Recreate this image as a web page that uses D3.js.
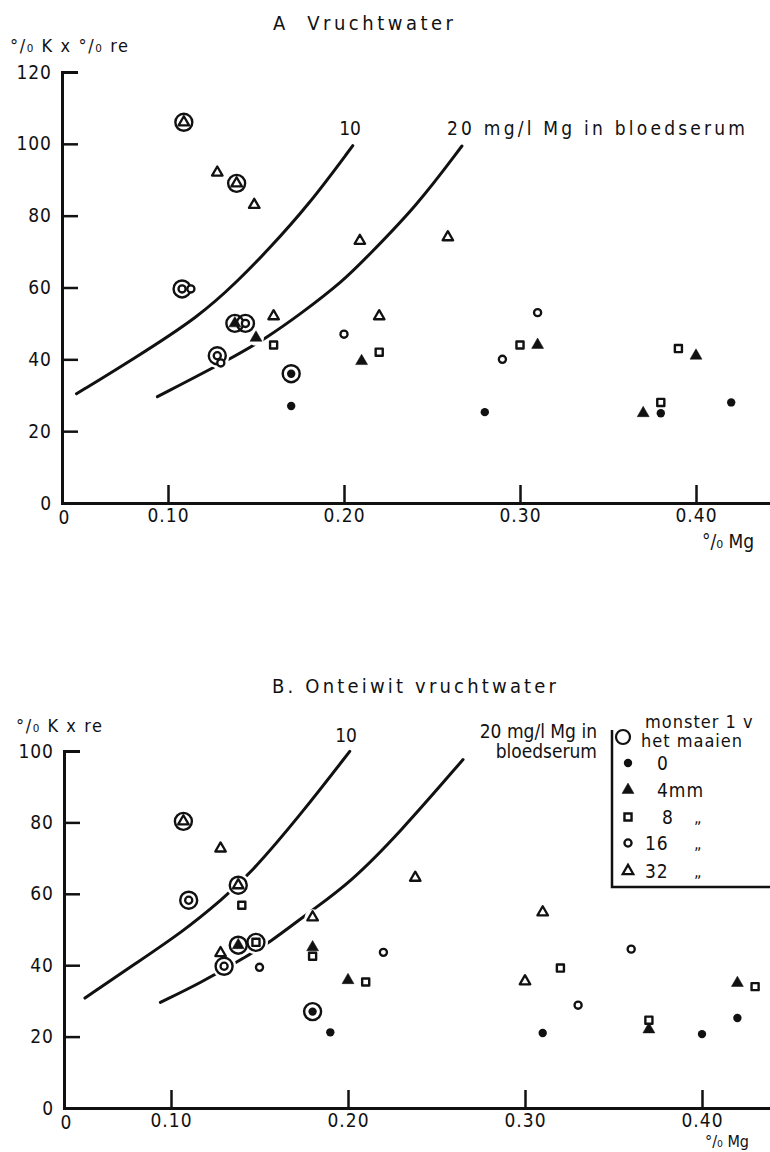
<!doctype html>
<html>
<head>
<meta charset="utf-8">
<title>Vruchtwater Mg</title>
<script src="https://d3js.org/d3.v7.min.js"></script>
<style>
  body { margin: 0; background: #fff; }
  text { font-family: 'DejaVu Sans Condensed', 'DejaVu Sans', sans-serif; fill: #111; }
</style>
</head>
<body>
<script>
// axis ticks
var xTicks = [0.1, 0.2, 0.3, 0.4];
var xTickLabels = ["0.10", "0.20", "0.30", "0.40"];
var yTicksA = [0, 20, 40, 60, 80, 100, 120];
var yTicksB = [0, 20, 40, 60, 80, 100];

// panel A: [% Mg, %K x %re, circled]
var a0  = [[0.17, 36, 1], [0.17, 27], [0.28, 25.3], [0.38, 25], [0.42, 28]];
var a4  = [[0.138, 50, 1], [0.15, 46], [0.21, 39.5], [0.31, 44], [0.37, 25], [0.40, 41]];
var a8  = [[0.16, 44], [0.22, 42], [0.30, 44], [0.39, 43], [0.38, 28]];
var a16 = [[0.108, 59.6, 1], [0.113, 59.6], [0.144, 50, 1], [0.128, 41, 1], [0.13, 39],
           [0.20, 47], [0.29, 40], [0.31, 53]];
var a32 = [[0.109, 106, 1], [0.128, 92], [0.139, 89, 1], [0.149, 83], [0.209, 73],
           [0.259, 74], [0.16, 52], [0.22, 52]];

// panel B
var b0  = [[0.18, 27, 1], [0.19, 21.2], [0.31, 21], [0.40, 20.7], [0.42, 25.2]];
var b4  = [[0.138, 45.6, 1], [0.18, 45], [0.20, 35.8], [0.37, 22], [0.42, 35]];
var b8  = [[0.14, 56.8], [0.148, 46.4, 1], [0.18, 42.5], [0.21, 35.3], [0.32, 39.2],
           [0.37, 24.6], [0.43, 34]];
var b16 = [[0.11, 58.2, 1], [0.13, 39.7, 1], [0.15, 39.4], [0.22, 43.6], [0.33, 28.8], [0.36, 44.5]];
var b32 = [[0.107, 80.3, 1], [0.128, 72.7], [0.138, 62.4, 1], [0.128, 43.4], [0.18, 53.4],
           [0.238, 64.5], [0.31, 54.8], [0.30, 35.5]];

// curves: 10 and 20 mg/l Mg in bloedserum
var a10 = [[0.048, 30.4], [0.08, 40], [0.118, 52], [0.14, 62], [0.156, 70], [0.18, 83], [0.205, 99.5]];
var a20 = [[0.094, 29.6], [0.137, 40.5], [0.156, 46], [0.175, 52.5], [0.20, 62], [0.213, 68.5],
           [0.241, 82.5], [0.267, 99.4]];
var b10 = [[0.0514, 30.8], [0.0785, 40], [0.107, 49.5], [0.129, 58.5], [0.1446, 65.5],
           [0.173, 82], [0.201, 99.9]];
var b20 = [[0.094, 29.6], [0.1165, 35], [0.139, 41.4], [0.156, 46.4], [0.1785, 55],
           [0.201, 63], [0.229, 77], [0.265, 97.6]];

var legendKeys = ["0", "4", "8", "16", "32"];
var legendLabels = ["0", "4mm", "8", "16", "32"];

var W = 770, H = 1152;
var svg = d3.select("body").append("svg").attr("width", W).attr("height", H);

var markStyle = {
  "0":  {type: d3.symbolCircle,   size: 55, fill: "#111", sw: 0},
  "4":  {type: d3.symbolTriangle, size: 62, fill: "#111", sw: 0.5},
  "8":  {type: d3.symbolSquare,   size: 50, fill: "#fff", sw: 2.4},
  "16": {type: d3.symbolCircle,   size: 40, fill: "#fff", sw: 2.3},
  "32": {type: d3.symbolTriangle, size: 48, fill: "#fff", sw: 2.3}
};

function drawPanel(p) {
  var x = d3.scaleLinear().domain([0.1, 0.4]).range([p.x10, p.x40]);
  var y = d3.scaleLinear().domain([0, p.yMax]).range([p.y0, p.y1]);
  var g = svg.append("g");

  // y axis, ticks pointing inward
  var ya = g.append("g").attr("transform", "translate(" + p.xo + ",0)")
    .call(d3.axisLeft(y).tickValues(p.yTicks).tickSize(-16).tickSizeOuter(-16).tickPadding(10));
  ya.select(".domain").attr("stroke", "#111").attr("stroke-width", 3);
  ya.selectAll(".tick line").attr("stroke", "#111").attr("stroke-width", 2.5);
  ya.selectAll(".tick text").attr("font-size", 19).attr("letter-spacing", 1)
    .attr("font-family", "'DejaVu Sans Condensed', sans-serif").attr("fill", "#111");

  // x axis, starts at the origin and runs off the right edge
  var xs = x.copy().domain([x.invert(p.xo), x.invert(W + 5)]).range([p.xo, W + 5]);
  var xa = g.append("g").attr("transform", "translate(0," + p.y0 + ")")
    .call(d3.axisBottom(xs).tickValues(xTicks).tickFormat(function(d, i) { return xTickLabels[i]; })
      .tickSize(-18).tickSizeOuter(0).tickPadding(6));
  xa.select(".domain").attr("stroke", "#111").attr("stroke-width", 3);
  xa.selectAll(".tick line").attr("stroke", "#111").attr("stroke-width", 2.5);
  xa.selectAll(".tick text").attr("font-size", 19).attr("letter-spacing", 1)
    .attr("font-family", "'DejaVu Sans Condensed', sans-serif").attr("fill", "#111");

  g.append("text").attr("x", p.xo + 2).attr("y", p.y0 + 21).attr("text-anchor", "middle")
    .attr("font-size", 19).text("0");

  // curves
  var line = d3.line().x(function(d) { return x(d[0]); }).y(function(d) { return y(d[1]); })
    .curve(d3.curveBasis);
  [p.c10, p.c20].forEach(function(c) {
    g.append("path").attr("d", line(c)).attr("fill", "none")
      .attr("stroke", "#111").attr("stroke-width", 3).attr("stroke-linecap", "round");
  });

  var pts = [];
  legendKeys.forEach(function(k) {
    p.series[k].forEach(function(d) { pts.push({k: k, x: d[0], y: d[1], ring: !!d[2]}); });
  });

  // white knockouts where the curves pass under marks
  g.selectAll("circle.knock").data(pts).enter().append("circle")
    .attr("cx", function(d) { return x(d.x); }).attr("cy", function(d) { return y(d.y); })
    .attr("r", function(d) { return d.ring ? 12 : 8; }).attr("fill", "#fff");

  g.selectAll("circle.ring").data(pts.filter(function(d) { return d.ring; })).enter().append("circle")
    .attr("cx", function(d) { return x(d.x); }).attr("cy", function(d) { return y(d.y); })
    .attr("r", 8.5).attr("fill", "none").attr("stroke", "#111").attr("stroke-width", 2.4);

  g.selectAll("path.mark").data(pts).enter().append("path")
    .attr("transform", function(d) { return "translate(" + x(d.x) + "," + y(d.y) + ")"; })
    .attr("d", function(d) { var s = markStyle[d.k]; return d3.symbol().type(s.type).size(s.size)(); })
    .attr("fill", function(d) { return markStyle[d.k].fill; })
    .attr("stroke", "#111")
    .attr("stroke-width", function(d) { return markStyle[d.k].sw; })
    .attr("stroke-linejoin", "round");
}

drawPanel({xo: 62, x10: 168, x40: 696, y0: 503, y1: 72, yMax: 120, yTicks: yTicksA,
  c10: a10, c20: a20, series: {"0": a0, "4": a4, "8": a8, "16": a16, "32": a32}});
drawPanel({xo: 64, x10: 171, x40: 702, y0: 1108, y1: 751, yMax: 100, yTicks: yTicksB,
  c10: b10, c20: b20, series: {"0": b0, "4": b4, "8": b8, "16": b16, "32": b32}});

// panel A texts
svg.append("text").attr("x", 273).attr("y", 30).attr("font-size", 20)
  .attr("textLength", 180).attr("lengthAdjust", "spacing")
  .attr("xml:space", "preserve").text("A  Vruchtwater");
svg.append("text").attr("x", 10).attr("y", 52).attr("font-size", 18)
  .attr("textLength", 118).attr("lengthAdjust", "spacing").text("°/₀ K x °/₀ re");
svg.append("text").attr("x", 350).attr("y", 135).attr("text-anchor", "middle").attr("font-size", 19).text("10");
svg.append("text").attr("x", 447).attr("y", 135).attr("font-size", 19)
  .attr("textLength", 298).attr("lengthAdjust", "spacing").text("20 mg/l Mg in bloedserum");
svg.append("text").attr("x", 702).attr("y", 548).attr("font-size", 19).text("°/₀ Mg");

// panel B texts
svg.append("text").attr("x", 272).attr("y", 693).attr("font-size", 20)
  .attr("textLength", 284).attr("lengthAdjust", "spacing").text("B. Onteiwit vruchtwater");
svg.append("text").attr("x", 16).attr("y", 732).attr("font-size", 18)
  .attr("textLength", 86).attr("lengthAdjust", "spacing").text("°/₀ K x re");
svg.append("text").attr("x", 346).attr("y", 742).attr("text-anchor", "middle").attr("font-size", 19).text("10");
svg.append("text").attr("x", 597).attr("y", 738).attr("text-anchor", "end").attr("font-size", 19)
  .text("20 mg/l Mg in");
svg.append("text").attr("x", 597).attr("y", 758).attr("text-anchor", "end").attr("font-size", 19)
  .text("bloedserum");
svg.append("text").attr("x", 705).attr("y", 1147).attr("font-size", 16).text("°/₀ Mg");

// legend
var lg = svg.append("g");
lg.append("path").attr("d", "M612,730V887H775").attr("fill", "none")
  .attr("stroke", "#111").attr("stroke-width", 2.5);
lg.append("circle").attr("cx", 623).attr("cy", 737).attr("r", 7)
  .attr("fill", "none").attr("stroke", "#111").attr("stroke-width", 2.2);
lg.append("text").attr("x", 645).attr("y", 728).attr("font-size", 18).attr("letter-spacing", 1).text("monster 1 v");
lg.append("text").attr("x", 641).attr("y", 747).attr("font-size", 18).attr("letter-spacing", 1).text("het maaien");
var rowY = [763, 790, 817, 843, 871];
lg.selectAll("path.key").data(legendKeys).enter().append("path")
  .attr("transform", function(d, i) { return "translate(628," + rowY[i] + ")"; })
  .attr("d", function(d) { var s = markStyle[d]; return d3.symbol().type(s.type).size(s.size)(); })
  .attr("fill", function(d) { return markStyle[d].fill; })
  .attr("stroke", "#111").attr("stroke-width", function(d) { return markStyle[d].sw; });
lg.selectAll("text.key").data(legendLabels).enter().append("text")
  .attr("x", function(d, i) { return i < 2 ? 657 : (i === 2 ? 662 : 645); })
  .attr("y", function(d, i) { return rowY[i] + 7; })
  .attr("font-size", 19).attr("letter-spacing", 1).text(function(d) { return d; });
lg.selectAll("text.ditto").data(legendKeys.slice(2)).enter().append("text")
  .attr("x", 694).attr("y", function(d, i) { return rowY[i + 2] + 6; })
  .attr("font-size", 16).text("„");
</script>
</body>
</html>
